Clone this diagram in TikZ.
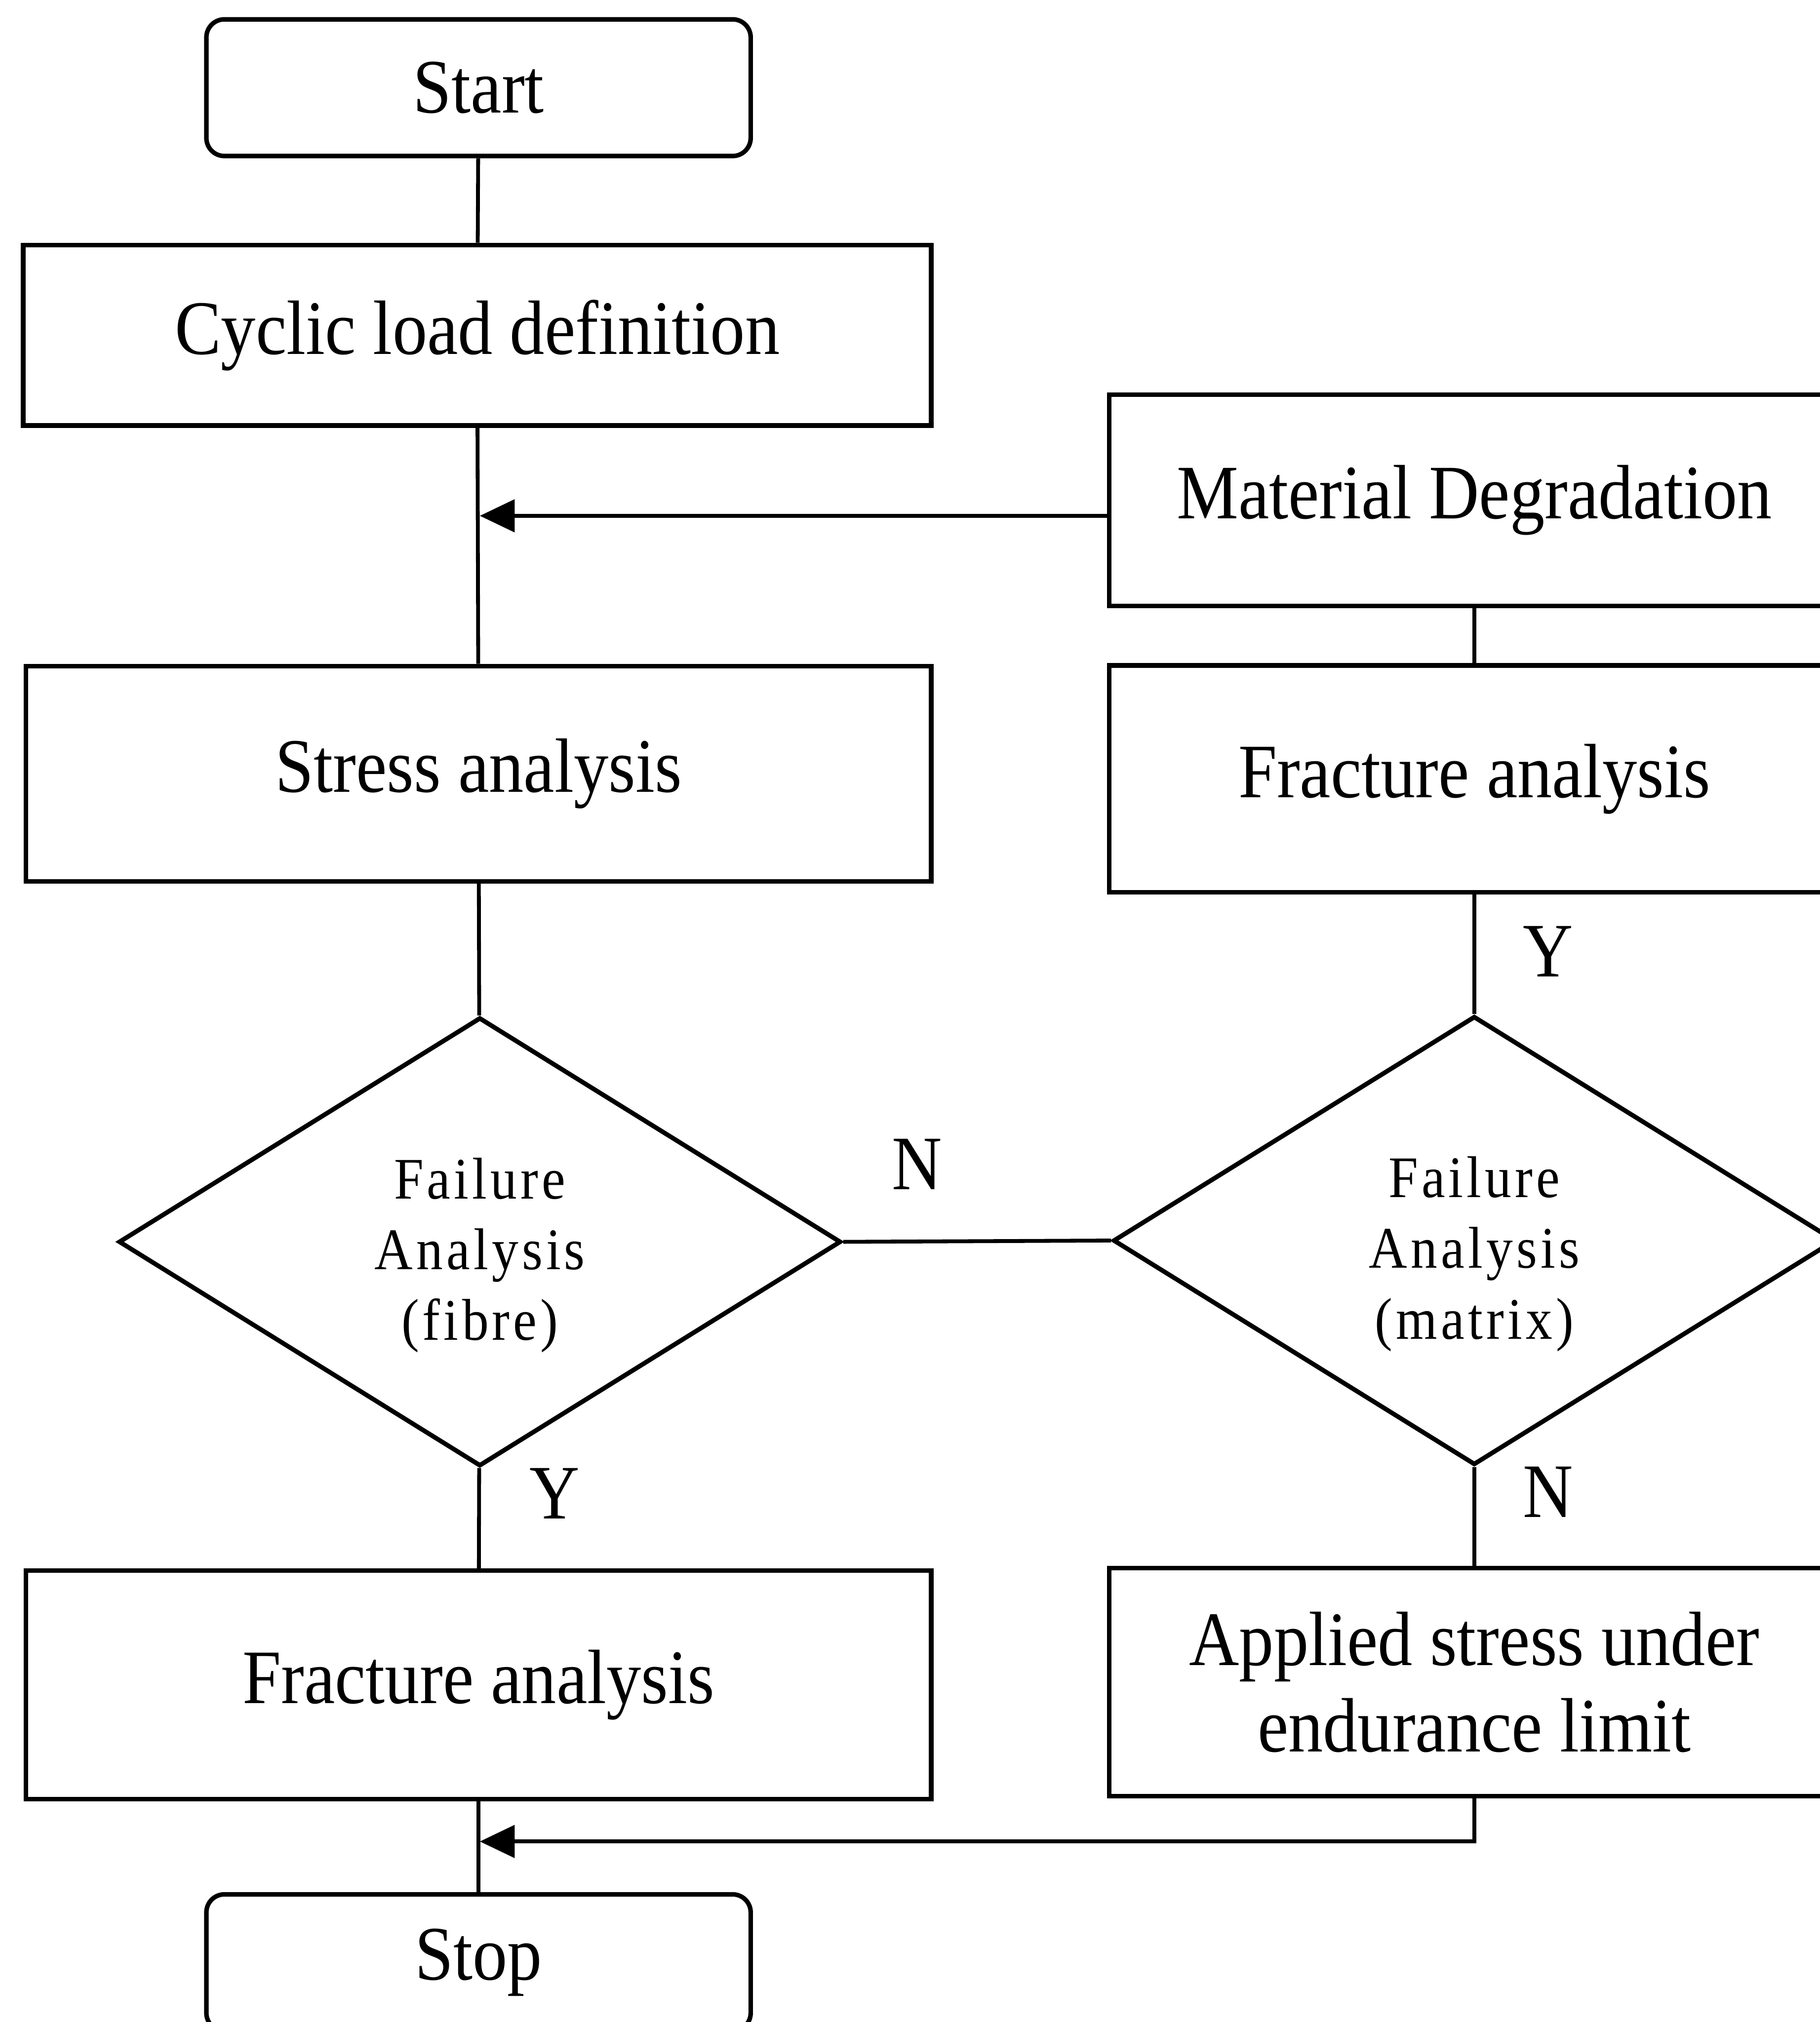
\documentclass[tikz,border=0pt]{standalone}
\usepackage{fontspec}
\setmainfont{Liberation Serif}[FakeStretch=0.9]
\newfontfamily\diafont{Liberation Serif}[FakeStretch=0.9,LetterSpace=6]
\usetikzlibrary{shapes.geometric,arrows.meta}
\tikzset{
    box/.style={draw,line width=1pt,minimum width=7.02cm,minimum height=1.7cm,
        align=center,inner sep=0pt,font=\fontsize{17}{20.5}\selectfont},
    rbox/.style={box,minimum width=5.66cm},
    term/.style={box,rounded corners=0.14cm,minimum width=4.22cm,minimum height=1.06cm},
    decide/.style={draw,diamond,line width=1pt,minimum width=5.6cm,minimum height=3.48cm,
        inner sep=0pt,align=center,font=\diafont\fontsize{13}{15.6}\selectfont},
    yn/.style={font=\fontsize{17}{20}\selectfont},
    link/.style={line width=0.85pt},
    back/.style={link,-{Triangle[length=0.27cm,width=0.25cm]}}
}
\newcommand\dtext[1]{\raisebox{-0.21cm}[0pt][0pt]{\begin{tabular}{@{}c@{}}#1\end{tabular}}}
\begin{document}
\begin{tikzpicture}
    \useasboundingbox (0,0) rectangle (14.11,-15.68);
    \clip (0,0) rectangle (14.11,-15.68);
    % left column
    \node[term] (start) at (3.71,-0.68) {Start};
    \node[box,minimum width=7.04cm,minimum height=1.40cm] (load) at (3.70,-2.60) {Cyclic load definition};
    \node[box,minimum height=1.67cm] (stress) at (3.71,-6.00) {Stress analysis};
    \node[decide] (fibre) at (3.72,-9.63) {\dtext{Failure\\Analysis\\(fibre)}};
    \node[box,minimum height=1.77cm] (fracl) at (3.71,-13.065) {Fracture analysis};
    \node[term] (stop) at (3.71,-15.22) {Stop};
    % right column
    \node[rbox,minimum height=1.64cm] (degr) at (11.43,-3.88) {Material Degradation};
    \node[rbox,minimum height=1.76cm] (fracr) at (11.43,-6.04) {Fracture analysis};
    \node[decide] (matrix) at (11.43,-9.62) {\dtext{Failure\\Analysis\\(matrix)}};
    \node[rbox,minimum height=1.77cm] (applied) at (11.43,-13.045) {Applied stress under\\[-0.05cm]endurance limit};
    % joints
    \coordinate (j1) at (3.72,-4.00);
    \coordinate (j2) at (3.72,-14.28);
    % connectors
    \draw[link] (start) -- (load);
    \draw[link] (load) -- (stress);
    \draw[link] (stress) -- (fibre);
    \draw[link] (fibre) -- (fracl);
    \draw[link] (fracl) -- (stop);
    \draw[link] (fibre.east) -- (matrix.west);
    \draw[link] (degr) -- (fracr);
    \draw[link] (fracr) -- (matrix);
    \draw[link] (matrix) -- (applied);
    \draw[back] (j1 -| degr.west) -- (j1);
    \draw[back] (applied.south) |- (j2);
    % labels
    \node[yn] (n1) at (7.11,-9.03) {N};
    \node[yn] (y1) at (12.00,-7.38) {Y};
    \node[yn] (y2) at (4.30,-11.58) {Y};
    \node[yn] (n2) at (12.00,-11.57) {N};
\end{tikzpicture}
\end{document}
